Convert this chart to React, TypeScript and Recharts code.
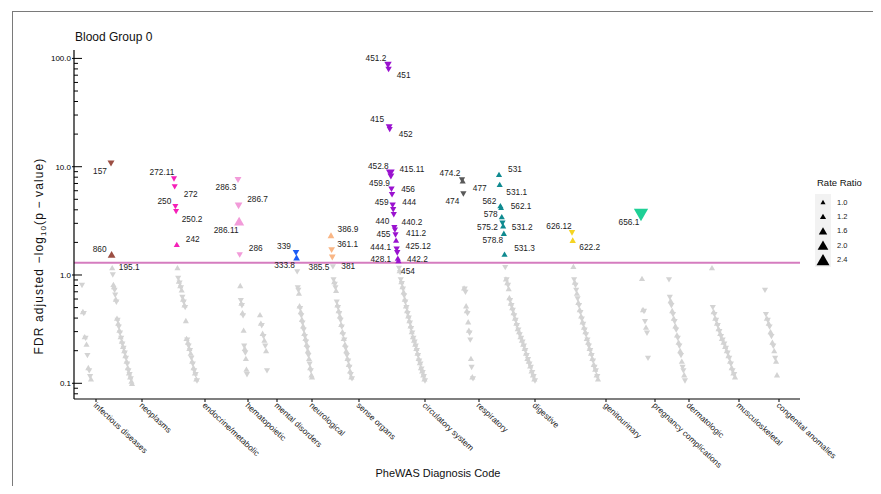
import { ScatterChart, Scatter, XAxis, YAxis, ReferenceLine } from 'recharts';

type Dir = 'u' | 'd';
type Obs = [number, Dir];

const FONT = '"Liberation Sans", Arial, sans-serif';
const GRAY = '#d3d3d3';

// --- categories along the x axis (position units of the PheWAS ordering) ---
const CATEGORY_NAMES = [
  'infectious diseases', 'neoplasms', 'endocrine/metabolic', 'hematopoietic', 'mental disorders',
  'neurological', 'sense organs', 'circulatory system', 'respiratory', 'digestive',
  'genitourinary', 'pregnancy complications', 'dermatologic', 'musculoskeletal', 'congenital anomalies',
];
const CATEGORY_TICKS = [22, 68, 131, 174, 203, 238, 285, 351, 405, 461, 532, 581, 615, 665, 705];
const CATEGORY_SPANS: [number, number][] = [
  [8, 17], [37, 58], [100, 123], [164, 173], [186, 193], [222, 238], [257, 278], [314, 351],
  [388, 399], [425, 461], [498, 524], [567, 574], [595, 611], [638, 661], [691, 703],
];
const CATEGORY_COLORS = [
  '#888888', '#9c4f43', '#f520b8', '#f29bd9', '#888888', '#1a5bf5', '#f9b685', '#9a12cf',
  '#595959', '#0f8a90', '#f5d423', '#1fd096', '#888888', '#888888', '#888888',
];

// --- labelled phecodes: -log10 FDR p, direction, rate ratio ---
type Labeled = { code: string; cat: number; value: number; dir: Dir; rr: number; sig: boolean };
const LABELED: Labeled[] = [
  { code: '157', cat: 1, value: 10.7, dir: 'd', rr: 0.74, sig: true },
  { code: '860', cat: 1, value: 1.55, dir: 'u', rr: 1.5, sig: true },
  { code: '195.1', cat: 1, value: 1.17, dir: 'u', rr: 1.2, sig: false },
  { code: '272.11', cat: 2, value: 7.7, dir: 'd', rr: 0.84, sig: true },
  { code: '272', cat: 2, value: 6.5, dir: 'd', rr: 0.84, sig: true },
  { code: '250', cat: 2, value: 4.27, dir: 'd', rr: 0.85, sig: true },
  { code: '250.2', cat: 2, value: 3.84, dir: 'd', rr: 0.85, sig: true },
  { code: '242', cat: 2, value: 1.92, dir: 'u', rr: 1.2, sig: true },
  { code: '286.3', cat: 3, value: 7.54, dir: 'd', rr: 0.75, sig: true },
  { code: '286.7', cat: 3, value: 4.34, dir: 'd', rr: 0.68, sig: true },
  { code: '286.11', cat: 3, value: 3.15, dir: 'u', rr: 1.9, sig: true },
  { code: '286', cat: 3, value: 1.53, dir: 'd', rr: 0.8, sig: true },
  { code: '339', cat: 5, value: 1.6, dir: 'd', rr: 0.78, sig: true },
  { code: '333.8', cat: 5, value: 1.45, dir: 'u', rr: 1.3, sig: true },
  { code: '386.9', cat: 6, value: 2.33, dir: 'u', rr: 1.3, sig: true },
  { code: '361.1', cat: 6, value: 1.7, dir: 'd', rr: 0.77, sig: true },
  { code: '381', cat: 6, value: 1.45, dir: 'd', rr: 0.77, sig: true },
  { code: '385.5', cat: 6, value: 1.19, dir: 'd', rr: 0.84, sig: false },
  { code: '451.2', cat: 7, value: 87, dir: 'd', rr: 0.7, sig: true },
  { code: '451', cat: 7, value: 79, dir: 'd', rr: 0.8, sig: true },
  { code: '415', cat: 7, value: 23.1, dir: 'd', rr: 0.75, sig: true },
  { code: '452', cat: 7, value: 22, dir: 'd', rr: 0.85, sig: true },
  { code: '452.8', cat: 7, value: 8.7, dir: 'd', rr: 0.6, sig: true },
  { code: '415.11', cat: 7, value: 8.1, dir: 'd', rr: 0.75, sig: true },
  { code: '459.9', cat: 7, value: 6.2, dir: 'd', rr: 0.8, sig: true },
  { code: '456', cat: 7, value: 5.5, dir: 'd', rr: 0.8, sig: true },
  { code: '459', cat: 7, value: 4.4, dir: 'd', rr: 0.8, sig: true },
  { code: '444', cat: 7, value: 4.0, dir: 'd', rr: 0.82, sig: true },
  { code: '', cat: 7, value: 3.6, dir: 'd', rr: 0.82, sig: true },
  { code: '440', cat: 7, value: 2.73, dir: 'd', rr: 0.83, sig: true },
  { code: '440.2', cat: 7, value: 2.6, dir: 'd', rr: 0.83, sig: true },
  { code: '455', cat: 7, value: 2.34, dir: 'd', rr: 0.83, sig: true },
  { code: '411.2', cat: 7, value: 2.1, dir: 'u', rr: 1.2, sig: true },
  { code: '444.1', cat: 7, value: 1.73, dir: 'd', rr: 0.8, sig: true },
  { code: '425.12', cat: 7, value: 1.6, dir: 'd', rr: 0.8, sig: true },
  { code: '428.1', cat: 7, value: 1.43, dir: 'u', rr: 1.2, sig: true },
  { code: '442.2', cat: 7, value: 1.36, dir: 'u', rr: 1.2, sig: true },
  { code: '454', cat: 7, value: 1.15, dir: 'd', rr: 0.84, sig: false },
  { code: '474.2', cat: 8, value: 7.54, dir: 'd', rr: 0.82, sig: true },
  { code: '477', cat: 8, value: 7.4, dir: 'u', rr: 1.2, sig: true },
  { code: '474', cat: 8, value: 5.6, dir: 'd', rr: 0.82, sig: true },
  { code: '531', cat: 9, value: 8.5, dir: 'u', rr: 1.2, sig: true },
  { code: '531.1', cat: 9, value: 6.87, dir: 'u', rr: 1.2, sig: true },
  { code: '562', cat: 9, value: 4.37, dir: 'u', rr: 1.2, sig: true },
  { code: '562.1', cat: 9, value: 4.2, dir: 'u', rr: 1.15, sig: true },
  { code: '578', cat: 9, value: 3.46, dir: 'u', rr: 1.2, sig: true },
  { code: '575.2', cat: 9, value: 3.0, dir: 'd', rr: 0.82, sig: true },
  { code: '531.2', cat: 9, value: 2.85, dir: 'u', rr: 1.2, sig: true },
  { code: '578.8', cat: 9, value: 2.43, dir: 'u', rr: 1.2, sig: true },
  { code: '531.3', cat: 9, value: 1.56, dir: 'u', rr: 1.2, sig: true },
  { code: '626.12', cat: 10, value: 2.45, dir: 'd', rr: 0.8, sig: true },
  { code: '622.2', cat: 10, value: 2.1, dir: 'u', rr: 1.25, sig: true },
  { code: '656.1', cat: 11, value: 3.58, dir: 'd', rr: 0.38, sig: true },
];

// where each label sits relative to its point (px)
const LABEL_OFFSETS: Record<string, [number, number]> = {
  '157': [-11, 7], '860': [-12, -5], '195.1': [17, -1],
  '272.11': [-12, -7], '272': [16, 7], '250': [-11, -6], '250.2': [16, 7], '242': [16, -5],
  '286.3': [-12, 7], '286.7': [19, -7], '286.11': [-13, 9], '286': [16, -7],
  '339': [-12, -7], '333.8': [-12, 7],
  '386.9': [17, -6], '361.1': [16, -6], '381': [16, 8], '385.5': [-14, 0],
  '451.2': [-12, -7], '451': [15, 5], '415': [-12, -8], '452': [16, 4], '452.8': [-12, -7],
  '415.11': [21, -8], '459.9': [-12, -6], '456': [16, -6], '459': [-11, -3], '444': [16, -8],
  '440': [-12, -7], '440.2': [17, -8], '455': [-12, -1], '411.2': [20, -7], '444.1': [-16, -2],
  '425.12': [21, -7], '428.1': [-17, 1], '442.2': [19, -2], '454': [9, 3],
  '474.2': [-12, -7], '477': [17, 7], '474': [-11, 7],
  '531': [16, -5], '531.1': [17, 8], '562': [-11, -5], '562.1': [20, -2], '578': [-11, -3],
  '575.2': [-15, 4], '531.2': [19, 1], '578.8': [-11, 7], '531.3': [20, -6],
  '626.12': [-13, -7], '622.2': [17, 7], '656.1': [-12, 7],
};

// --- non-significant phecodes per category ---
const infectiousGray: Obs[] = [[0.8,'d'],[0.46,'u'],[0.44,'d'],[0.27,'u'],[0.26,'d'],[0.23,'u'],[0.18,'d'],[0.14,'u'],[0.13,'d'],[0.115,'d'],[0.11,'u']];
const neoplasmGray: Obs[] = [[1.0,'d'],[0.82,'u'],[0.78,'u'],[0.72,'d'],[0.65,'d'],[0.6,'u'],[0.56,'d'],[0.4,'u'],[0.38,'d'],[0.36,'u'],[0.33,'d'],[0.31,'u'],[0.29,'d'],[0.27,'u'],[0.26,'d'],[0.245,'u'],[0.23,'d'],[0.22,'u'],[0.21,'d'],[0.2,'u'],[0.19,'d'],[0.18,'u'],[0.17,'d'],[0.16,'u'],[0.15,'d'],[0.14,'u'],[0.13,'d'],[0.125,'u'],[0.12,'d'],[0.115,'u'],[0.11,'d'],[0.105,'u'],[0.1,'u']];
const endocrineGray: Obs[] = [[1.17,'u'],[0.93,'d'],[0.88,'u'],[0.84,'d'],[0.8,'u'],[0.76,'d'],[0.73,'u'],[0.62,'d'],[0.6,'u'],[0.56,'d'],[0.53,'u'],[0.5,'d'],[0.38,'u'],[0.26,'u'],[0.25,'d'],[0.24,'u'],[0.22,'d'],[0.21,'u'],[0.2,'d'],[0.19,'u'],[0.17,'d'],[0.16,'u'],[0.15,'d'],[0.14,'u'],[0.13,'d'],[0.125,'u'],[0.12,'d'],[0.11,'u'],[0.105,'d']];
const hematoGray: Obs[] = [[0.8,'u'],[0.58,'d'],[0.55,'u'],[0.52,'d'],[0.45,'u'],[0.42,'d'],[0.31,'u'],[0.22,'d'],[0.21,'u'],[0.19,'d'],[0.17,'u'],[0.135,'u'],[0.12,'d']];
const mentalGray: Obs[] = [[0.43,'u'],[0.36,'u'],[0.34,'d'],[0.29,'u'],[0.27,'d'],[0.25,'u'],[0.22,'d'],[0.2,'u'],[0.13,'d']];
const neuroGray: Obs[] = [[1.07,'d'],[0.76,'d'],[0.72,'d'],[0.68,'u'],[0.52,'u'],[0.49,'d'],[0.46,'u'],[0.42,'d'],[0.39,'u'],[0.36,'d'],[0.34,'u'],[0.31,'d'],[0.29,'u'],[0.27,'d'],[0.26,'u'],[0.24,'d'],[0.23,'u'],[0.21,'d'],[0.2,'u'],[0.18,'d'],[0.17,'u'],[0.15,'d'],[0.14,'u'],[0.13,'d'],[0.12,'u'],[0.115,'u']];
const senseGray: Obs[] = [[0.9,'d'],[0.87,'u'],[0.82,'d'],[0.76,'d'],[0.72,'u'],[0.56,'d'],[0.53,'u'],[0.5,'d'],[0.47,'u'],[0.44,'d'],[0.42,'u'],[0.38,'d'],[0.35,'u'],[0.33,'d'],[0.3,'u'],[0.28,'d'],[0.26,'u'],[0.25,'d'],[0.23,'u'],[0.21,'d'],[0.2,'u'],[0.18,'d'],[0.17,'u'],[0.16,'d'],[0.15,'u'],[0.14,'d'],[0.13,'u'],[0.12,'d'],[0.115,'u'],[0.11,'d']];
const circulatoryGray: Obs[] = [[1.1,'u'],[1.05,'d'],[0.9,'d'],[0.87,'u'],[0.83,'d'],[0.78,'u'],[0.74,'d'],[0.7,'u'],[0.64,'d'],[0.6,'u'],[0.56,'d'],[0.52,'u'],[0.5,'d'],[0.47,'u'],[0.44,'d'],[0.42,'u'],[0.4,'d'],[0.38,'u'],[0.36,'d'],[0.34,'u'],[0.32,'d'],[0.3,'u'],[0.29,'d'],[0.27,'u'],[0.26,'d'],[0.25,'u'],[0.24,'d'],[0.23,'u'],[0.22,'d'],[0.21,'u'],[0.2,'d'],[0.19,'u'],[0.18,'d'],[0.17,'u'],[0.16,'d'],[0.155,'u'],[0.15,'d'],[0.14,'u'],[0.135,'d'],[0.13,'u'],[0.125,'d'],[0.12,'u'],[0.115,'d'],[0.11,'u'],[0.105,'d']];
const respiratoryGray: Obs[] = [[0.76,'u'],[0.74,'d'],[0.69,'d'],[0.52,'u'],[0.47,'u'],[0.44,'d'],[0.37,'u'],[0.31,'u'],[0.29,'d'],[0.25,'d'],[0.17,'u'],[0.14,'d'],[0.115,'u'],[0.11,'d']];
const digestiveGray: Obs[] = [[1.17,'d'],[0.92,'u'],[0.9,'d'],[0.85,'u'],[0.8,'d'],[0.75,'u'],[0.62,'u'],[0.58,'d'],[0.55,'u'],[0.52,'d'],[0.5,'u'],[0.47,'d'],[0.45,'u'],[0.42,'d'],[0.4,'u'],[0.38,'d'],[0.36,'u'],[0.34,'d'],[0.32,'u'],[0.31,'d'],[0.3,'u'],[0.28,'d'],[0.27,'u'],[0.26,'d'],[0.25,'u'],[0.24,'d'],[0.23,'u'],[0.22,'d'],[0.21,'u'],[0.2,'d'],[0.19,'u'],[0.18,'d'],[0.17,'u'],[0.165,'d'],[0.16,'u'],[0.15,'d'],[0.145,'u'],[0.14,'d'],[0.13,'u'],[0.125,'d'],[0.12,'u'],[0.115,'d'],[0.11,'u'],[0.105,'d']];
const genitourinaryGray: Obs[] = [[1.2,'u'],[0.9,'d'],[0.86,'u'],[0.8,'d'],[0.72,'d'],[0.68,'u'],[0.6,'d'],[0.56,'u'],[0.52,'d'],[0.48,'u'],[0.45,'d'],[0.42,'u'],[0.39,'d'],[0.37,'u'],[0.35,'d'],[0.33,'u'],[0.31,'d'],[0.3,'u'],[0.28,'d'],[0.26,'u'],[0.25,'d'],[0.24,'u'],[0.22,'d'],[0.21,'u'],[0.2,'d'],[0.19,'u'],[0.18,'d'],[0.17,'u'],[0.16,'d'],[0.15,'u'],[0.14,'d'],[0.135,'u'],[0.13,'d'],[0.12,'u'],[0.115,'d'],[0.11,'u']];
const pregnancyGray: Obs[] = [[0.93,'u'],[0.48,'u'],[0.46,'d'],[0.37,'d'],[0.33,'u'],[0.29,'d'],[0.17,'d']];
const dermatologicGray: Obs[] = [[0.9,'d'],[0.62,'d'],[0.58,'u'],[0.52,'d'],[0.47,'u'],[0.43,'d'],[0.4,'u'],[0.37,'d'],[0.34,'u'],[0.31,'d'],[0.28,'u'],[0.26,'d'],[0.24,'u'],[0.22,'d'],[0.2,'u'],[0.18,'d'],[0.16,'u'],[0.14,'d'],[0.13,'d'],[0.12,'u'],[0.105,'d']];
const musculoGray: Obs[] = [[1.17,'u'],[0.5,'d'],[0.46,'u'],[0.43,'d'],[0.4,'u'],[0.38,'d'],[0.36,'u'],[0.34,'d'],[0.32,'u'],[0.3,'d'],[0.29,'u'],[0.27,'d'],[0.26,'u'],[0.25,'d'],[0.24,'u'],[0.23,'d'],[0.22,'u'],[0.21,'d'],[0.2,'u'],[0.19,'d'],[0.18,'u'],[0.17,'d'],[0.16,'u'],[0.15,'d'],[0.14,'u'],[0.13,'d'],[0.125,'u'],[0.12,'d'],[0.115,'u']];
const congenitalGray: Obs[] = [[0.72,'d'],[0.43,'d'],[0.4,'u'],[0.38,'d'],[0.36,'u'],[0.33,'d'],[0.3,'u'],[0.27,'d'],[0.24,'u'],[0.22,'d'],[0.2,'u'],[0.17,'d'],[0.16,'u'],[0.12,'u']];

const GRAY_BY_CATEGORY = [
  infectiousGray, neoplasmGray, endocrineGray, hematoGray, mentalGray, neuroGray, senseGray,
  circulatoryGray, respiratoryGray, digestiveGray, genitourinaryGray, pregnancyGray,
  dermatologicGray, musculoGray, congenitalGray,
];

const Y_MAJOR = [0.1, 1, 10, 100];
const Y_TICKS = [
  0.08, 0.09, 0.1, 0.2, 0.3, 0.4, 0.5, 0.6, 0.7, 0.8, 0.9, 1, 2, 3, 4, 5, 6, 7, 8, 9,
  10, 20, 30, 40, 50, 60, 70, 80, 90, 100,
];
const THRESHOLD = 1.3; // -log10(0.05)
const LEGEND_RR = [1.0, 1.2, 1.6, 2.0, 2.4];

type Pt = Labeled & { x: number; y: number; color: string };

// points sorted by significance within each category, spread across its span
function buildPoints(): Pt[] {
  const out: Pt[] = [];
  CATEGORY_NAMES.forEach((_, ci) => {
    const items: Labeled[] = [
      ...LABELED.filter((p) => p.cat === ci),
      ...GRAY_BY_CATEGORY[ci].map(([v, d]) => ({ code: '', cat: ci, value: v, dir: d, rr: 1.2, sig: false })),
    ];
    items.sort((a, b) => b.value - a.value);
    const [s, e] = CATEGORY_SPANS[ci];
    const step = items.length > 1 ? (e - s) / (items.length - 1) : 0;
    items.forEach((p, i) =>
      out.push({ ...p, x: s + i * step, y: p.value, color: p.sig ? CATEGORY_COLORS[ci] : GRAY }),
    );
  });
  return out;
}

function triWidth(rr: number) {
  const s = rr >= 1 ? rr : 1 / rr;
  return 5 + (s - 1) * 5.7;
}

function triPoints(cx: number, cy: number, w: number, dir: Dir) {
  const h = w * 0.87;
  return dir === 'u'
    ? `${cx - w / 2},${cy + h / 2} ${cx + w / 2},${cy + h / 2} ${cx},${cy - h / 2}`
    : `${cx - w / 2},${cy - h / 2} ${cx + w / 2},${cy - h / 2} ${cx},${cy + h / 2}`;
}

const TriShape = (props: any) => {
  const { cx, cy, payload } = props;
  if (cx == null || cy == null) return <g />;
  return <polygon points={triPoints(cx, cy, triWidth(payload.rr), payload.dir)} fill={payload.color} />;
};

const LabelShape = (props: any) => {
  const { cx, cy, payload } = props;
  const off = LABEL_OFFSETS[payload.code];
  if (!off || cx == null) return <g />;
  return (
    <text x={cx + off[0]} y={cy + off[1]} textAnchor="middle" dominantBaseline="central" fontSize={8.3} fill="#222" fontFamily={FONT}>
      {payload.code}
    </text>
  );
};

const YTick = (props: any) => {
  const { x, y, payload } = props;
  const major = Y_MAJOR.includes(payload.value);
  return (
    <g>
      <line x1={major ? x - 2 : x} x2={x + (major ? 8 : 4)} y1={y} y2={y} stroke="#000" strokeWidth={1} />
      {major && (
        <text x={x - 3} y={y} dy="0.35em" textAnchor="end" fontSize={8} fill="#000" fontFamily={FONT}>
          {payload.value.toFixed(1)}
        </text>
      )}
    </g>
  );
};

const XTick = (props: any) => {
  const { x, y, index } = props;
  const tx = x - 3;
  const ty = y + 7;
  return (
    <g>
      <line x1={x} x2={x} y1={y} y2={y + 3} stroke="#000" strokeWidth={1} />
      <text x={tx} y={ty} transform={`rotate(43, ${tx}, ${ty})`} fontSize={8.3} fill="#222" fontFamily={FONT}>
        {CATEGORY_NAMES[index]}
      </text>
    </g>
  );
};

export default function App() {
  const points = buildPoints();
  const grayPts = points.filter((p) => !p.sig);
  const sigPts = points.filter((p) => p.sig);
  const labelPts = points.filter((p) => p.code && LABEL_OFFSETS[p.code]);

  return (
    <div style={{ position: 'relative', width: 865, height: 478, fontFamily: FONT, background: '#fff' }}>
      {/* frame */}
      <div style={{ position: 'absolute', left: 4, top: 3, width: 861, height: 475, borderTop: '1px solid #7a7a7a', borderLeft: '1px solid #7a7a7a' }} />
      <div style={{ position: 'absolute', left: 67, top: 23, fontSize: 12, lineHeight: '12px', color: '#111' }}>Blood Group 0</div>

      <ScatterChart width={865} height={478} margin={{ top: 42, right: 73, bottom: 57, left: 6 }}>
        <XAxis
          type="number"
          dataKey="x"
          domain={[0, 726]}
          ticks={CATEGORY_TICKS}
          interval={0}
          height={30}
          tickSize={0}
          tickMargin={0}
          tick={<XTick />}
          axisLine={{ stroke: '#000', strokeWidth: 1.2 }}
          allowDataOverflow
        />
        <YAxis
          type="number"
          dataKey="y"
          scale="log"
          domain={[0.0716, 119.6]}
          ticks={Y_TICKS}
          interval={0}
          width={60}
          tickSize={0}
          tickMargin={0}
          tick={<YTick />}
          axisLine={{ stroke: '#000', strokeWidth: 1.2 }}
          allowDataOverflow
        />
        <ReferenceLine y={THRESHOLD} stroke="#d57cbf" strokeWidth={2} />
        <Scatter data={grayPts} shape={<TriShape />} isAnimationActive={false} />
        <Scatter data={sigPts} shape={<TriShape />} isAnimationActive={false} />
        <Scatter data={labelPts} shape={<LabelShape />} isAnimationActive={false} />
      </ScatterChart>

      {/* y axis title */}
      <div style={{ position: 'absolute', left: 31 - 150, top: 248 - 7, width: 300, height: 14, lineHeight: '14px', textAlign: 'center', fontSize: 12, letterSpacing: 1.1, color: '#111', transform: 'rotate(-90deg)', whiteSpace: 'nowrap' }}>
        FDR adjusted {'\u2212'}log<span style={{ fontSize: 8, verticalAlign: -3 }}>10</span>(p{'\u2009\u2212\u2009'}value)
      </div>
      {/* x axis title */}
      <div style={{ position: 'absolute', left: 280, top: 459, width: 300, lineHeight: '12px', textAlign: 'center', fontSize: 11, color: '#111' }}>
        PheWAS Diagnosis Code
      </div>

      {/* rate ratio legend */}
      <div style={{ position: 'absolute', left: 809, top: 169, fontSize: 9.5, lineHeight: '12px', color: '#111', whiteSpace: 'nowrap' }}>Rate Ratio</div>
      <svg style={{ position: 'absolute', left: 800, top: 180 }} width={60} height={90}>
        <rect x={7} y={6} width={16} height={73} fill="#f2f2f2" />
        {LEGEND_RR.map((rr, i) => {
          const cy = 14 + i * 14.4;
          return (
            <g key={rr}>
              <polygon points={triPoints(15, cy, triWidth(rr), 'u')} fill="#000" />
              <text x={29} y={cy} dy="0.35em" fontSize={7.5} fill="#222" fontFamily={FONT}>{rr.toFixed(1)}</text>
            </g>
          );
        })}
      </svg>
    </div>
  );
}
